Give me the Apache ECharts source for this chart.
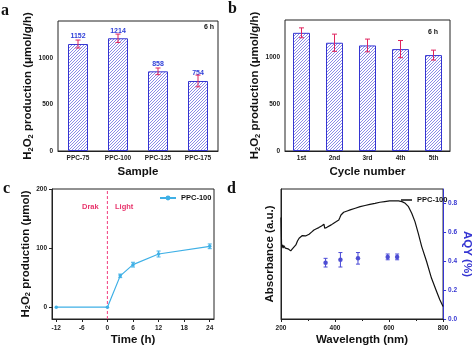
<!DOCTYPE html>
<html>
<head>
<meta charset="utf-8">
<script src="https://cdn.jsdelivr.net/npm/echarts@6/dist/echarts.min.js"></script>
<style>
html,body{margin:0;padding:0;background:#fff}
#main{width:474px;height:351px}
</style>
</head>
<body>
<div id="main"></div>
<script>
// (a) 不同样品产率
var samples = ['PPC-75', 'PPC-100', 'PPC-125', 'PPC-175'];
var sampleRate = [1152, 1214, 858, 754];
var sampleErr = [43, 45, 36, 63];
// (b) 循环测试
var cycles = ['1st', '2nd', '3rd', '4th', '5th'];
var cycleRate = [1263, 1157, 1128, 1089, 1025];
var cycleErr = [53, 92, 68, 92, 53];
// (c) 随时间变化
var timeX = [-12, 0, 3, 6, 12, 24];
var timeY = [0, 0, 53, 72, 90, 103];
var timeErr = [0, 0, 3, 4, 5, 4];
var timeTicks = [-12, -6, 0, 6, 12, 18, 24];
var lightOn = 0; // 开灯时刻
// (d) 吸收光谱 + AQY
var absNm = [200, 202, 204, 206, 208, 210, 212, 214, 216, 219, 222, 226, 231, 236, 242, 248, 255, 261, 267, 273,
  279, 285, 291, 297, 304, 313, 322, 331, 340, 350, 359, 362, 370, 377, 386, 395, 405, 414, 418, 422,
  432, 445, 456, 475, 493, 511, 529, 548, 566, 584, 602, 620, 635, 648, 660, 672, 684, 696, 708, 721,
  739, 757, 776, 788, 800];
var absVal = [0.78, 0.58, 0.55, 0.57, 0.545, 0.565, 0.55, 0.565, 0.545, 0.56, 0.545, 0.54, 0.532, 0.524, 0.54, 0.555, 0.57, 0.60, 0.621, 0.635,
  0.642, 0.638, 0.639, 0.645, 0.652, 0.668, 0.685, 0.694, 0.703, 0.716, 0.729, 0.698, 0.705, 0.711, 0.724, 0.737, 0.75, 0.762, 0.78, 0.80,
  0.821, 0.831, 0.839, 0.852, 0.864, 0.873, 0.882, 0.89, 0.898, 0.903, 0.908, 0.909, 0.908, 0.903, 0.89, 0.864, 0.813, 0.749, 0.66, 0.557,
  0.442, 0.315, 0.212, 0.148, 0.097];
var aqyNm = [365, 420, 485, 595, 630];
var aqyVal = [0.39, 0.41, 0.42, 0.43, 0.43];
var aqyErr = [0.03, 0.05, 0.04, 0.02, 0.02];
var aqyTicks = [0, 0.2, 0.4, 0.6, 0.8];

var font = 'Liberation Sans, Arial, sans-serif';
var blue = '#3535d2';

// 斜线填充
var hatch = document.createElement('canvas');
hatch.width = 3; hatch.height = 3;
var hc = hatch.getContext('2d');
hc.fillStyle = '#fff'; hc.fillRect(0, 0, 3, 3);
hc.strokeStyle = '#6f6fe0'; hc.lineWidth = 0.8;
hc.beginPath();
hc.moveTo(0, 3); hc.lineTo(3, 0);
hc.moveTo(-1, 1); hc.lineTo(1, -1);
hc.moveTo(2, 4); hc.lineTo(4, 2);
hc.stroke();

function errBar(color, cap) {
  return function (params, api) {
    var x = api.value(0), y = api.value(1), e = api.value(2);
    if (!e) return null;
    var t = api.coord([x, y + e]), b = api.coord([x, y - e]);
    var st = { stroke: color, lineWidth: 1 };
    return { type: 'group', children: [
      { type: 'line', shape: { x1: t[0], y1: t[1], x2: b[0], y2: b[1] }, style: st },
      { type: 'line', shape: { x1: t[0] - cap, y1: t[1], x2: t[0] + cap, y2: t[1] }, style: st },
      { type: 'line', shape: { x1: b[0] - cap, y1: b[1], x2: b[0] + cap, y2: b[1] }, style: st }
    ]};
  };
}
function zip3(a, b, c) { return a.map(function (v, i) { return [v, b[i], c[i]]; }); }
function plain(v) { return String(v); }

var tick = { fontSize: 6.5, fontWeight: 'bold', color: '#222', fontFamily: font, formatter: plain };
var titleStyle = { fontSize: 11.5, fontWeight: 'bold', color: '#111', fontFamily: font,
  rich: { s: { fontSize: 7.5, fontWeight: 'bold', fontFamily: font, color: '#111', padding: [5, 0, 0, 0] } } };
var line1 = { onZero: false, lineStyle: { color: '#222', width: 1 } };
var tk = { length: 3, lineStyle: { color: '#222' } };

var chart = echarts.init(document.getElementById('main'));
chart.setOption({
  animation: false,
  backgroundColor: '#fff',
  textStyle: { fontFamily: font },
  grid: [
    { left: 58, top: 21, width: 160, height: 130, show: true, borderColor: '#222', borderWidth: 1 },
    { left: 285, top: 20, width: 165, height: 131, show: true, borderColor: '#222', borderWidth: 1 },
    { left: 52, top: 189, width: 162, height: 130, show: true, borderColor: '#222', borderWidth: 1 },
    { left: 281, top: 189, width: 164, height: 130, show: true, borderColor: '#222', borderWidth: 1 }
  ],
  legend: [
    { data: ['PPC-100'], left: 154, top: 189, itemWidth: 16, itemHeight: 6, itemGap: 3,
      textStyle: { fontSize: 7.5, fontWeight: 'bold', color: '#111' } },
    { data: [{ name: 'PPC-100 abs', icon: 'rect' }], left: 396, top: 191, itemWidth: 11, itemHeight: 1.5, itemGap: 3,
      formatter: function () { return 'PPC-100'; },
      textStyle: { fontSize: 7.5, fontWeight: 'bold', color: '#111' } }
  ],
  xAxis: [
    { type: 'category', gridIndex: 0, data: samples, axisLine: line1, axisTick: tk,
      axisLabel: Object.assign({}, tick, { margin: 4, formatter: null }),
      name: 'Sample', nameLocation: 'middle', nameGap: 15, nameTextStyle: titleStyle },
    { type: 'category', gridIndex: 1, data: cycles, axisLine: line1, axisTick: tk,
      axisLabel: Object.assign({}, tick, { margin: 4, formatter: null }),
      name: 'Cycle number', nameLocation: 'middle', nameGap: 15, nameTextStyle: titleStyle },
    { type: 'value', gridIndex: 2, min: -13, max: 25, splitLine: { show: false }, axisLine: line1,
      axisTick: Object.assign({ customValues: timeTicks }, tk),
      axisLabel: Object.assign({ margin: 6, customValues: timeTicks }, tick),
      name: 'Time (h)', nameLocation: 'middle', nameGap: 15, nameTextStyle: titleStyle },
    { type: 'value', gridIndex: 3, min: 200, max: 800, interval: 200, splitLine: { show: false }, axisLine: line1,
      axisTick: tk, minorTick: { show: true, splitNumber: 2, length: 2, lineStyle: { color: '#222' } },
      axisLabel: Object.assign({ margin: 6 }, tick),
      name: 'Wavelength (nm)', nameLocation: 'middle', nameGap: 15, nameTextStyle: titleStyle }
  ],
  yAxis: [
    { type: 'value', gridIndex: 0, min: 0, max: 1400, splitLine: { show: false }, axisLine: line1,
      axisTick: Object.assign({ customValues: [0, 500, 1000] }, tk),
      axisLabel: Object.assign({ margin: 5, customValues: [0, 500, 1000] }, tick),
      name: 'H{s|2}O{s|2} production (μmol/g/h)', nameLocation: 'middle', nameGap: 23, nameTextStyle: titleStyle },
    { type: 'value', gridIndex: 1, min: 0, max: 1400, splitLine: { show: false }, axisLine: line1,
      axisTick: Object.assign({ customValues: [0, 500, 1000] }, tk),
      axisLabel: Object.assign({ margin: 5, customValues: [0, 500, 1000] }, tick),
      name: 'H{s|2}O{s|2} production (μmol/g/h)', nameLocation: 'middle', nameGap: 22, nameTextStyle: titleStyle },
    { type: 'value', gridIndex: 2, min: -20, max: 200, splitLine: { show: false }, axisLine: line1,
      axisTick: Object.assign({ customValues: [0, 100, 200] }, tk),
      axisLabel: Object.assign({ margin: 5, customValues: [0, 100, 200] }, tick),
      name: 'H{s|2}O{s|2} production (μmol)', nameLocation: 'middle', nameGap: 18, nameTextStyle: titleStyle },
    { type: 'value', gridIndex: 3, min: 0, max: 1, splitLine: { show: false }, axisLine: line1,
      axisTick: { show: false }, axisLabel: { show: false },
      name: 'Absorbance (a.u.)', nameLocation: 'middle', nameGap: 5, nameTextStyle: titleStyle },
    { type: 'value', gridIndex: 3, position: 'right', min: 0, max: 0.9, splitLine: { show: false },
      axisLine: { show: true, onZero: false, lineStyle: { color: blue, width: 1 } },
      axisTick: { show: true, length: 3, customValues: aqyTicks, lineStyle: { color: blue } },
      axisLabel: { margin: 5, customValues: aqyTicks, fontSize: 6.5, fontWeight: 'bold', color: blue,
        formatter: function (v) { return v.toFixed(1); } },
      name: 'AQY (%)', nameLocation: 'middle', nameGap: 16, nameRotate: -90,
      nameTextStyle: { fontSize: 11.5, fontWeight: 'bold', color: blue, fontFamily: font } }
  ],
  series: [
    { type: 'bar', xAxisIndex: 0, yAxisIndex: 0, data: sampleRate, barWidth: 20,
      itemStyle: { color: { image: hatch, repeat: 'repeat' }, borderColor: blue, borderWidth: 1 },
      label: { show: true, position: 'top', distance: 4, fontSize: 7, fontWeight: 'bold', color: '#2f3fd8' } },
    { type: 'custom', xAxisIndex: 0, yAxisIndex: 0, z: 5, data: zip3([0, 1, 2, 3], sampleRate, sampleErr),
      encode: { x: 0, y: 1 }, renderItem: errBar('#e0245e', 2.5) },
    { type: 'bar', xAxisIndex: 1, yAxisIndex: 1, data: cycleRate, barWidth: 17,
      itemStyle: { color: { image: hatch, repeat: 'repeat' }, borderColor: blue, borderWidth: 1 } },
    { type: 'custom', xAxisIndex: 1, yAxisIndex: 1, z: 5, data: zip3([0, 1, 2, 3, 4], cycleRate, cycleErr),
      encode: { x: 0, y: 1 }, renderItem: errBar('#e0245e', 2.5) },
    { type: 'line', xAxisIndex: 2, yAxisIndex: 2, z: 1, silent: true, symbol: 'none',
      data: [[lightOn, -20], [lightOn, 200]],
      lineStyle: { color: '#f2508a', type: [3, 2], width: 1.1 } },
    { name: 'PPC-100', type: 'line', xAxisIndex: 2, yAxisIndex: 2, z: 3,
      data: timeX.map(function (t, i) { return [t, timeY[i]]; }),
      symbol: 'circle', symbolSize: 3.5, lineStyle: { color: '#3fb0e6', width: 1.2 }, itemStyle: { color: '#3fb0e6' } },
    { type: 'custom', xAxisIndex: 2, yAxisIndex: 2, z: 5, data: zip3(timeX, timeY, timeErr),
      encode: { x: 0, y: 1 }, renderItem: errBar('#3fb0e6', 2) },
    { name: 'PPC-100 abs', type: 'line', xAxisIndex: 3, yAxisIndex: 3,
      data: absNm.map(function (n, i) { return [n, absVal[i]]; }),
      symbol: 'none', lineStyle: { color: '#111', width: 1.2 }, itemStyle: { color: '#111' } },
    { type: 'scatter', xAxisIndex: 3, yAxisIndex: 4, data: aqyNm.map(function (n, i) { return [n, aqyVal[i]]; }),
      symbol: 'circle', symbolSize: 4.5, itemStyle: { color: '#2424c8' } },
    { type: 'custom', xAxisIndex: 3, yAxisIndex: 4, z: 5, data: zip3(aqyNm, aqyVal, aqyErr),
      encode: { x: 0, y: 1 }, renderItem: errBar('#4a4ad6', 2) }
  ],
  graphic: [
    { type: 'text', left: 1, top: 3, style: { text: 'a', font: 'bold 16px Liberation Serif', fill: '#111' } },
    { type: 'text', left: 228, top: 1, style: { text: 'b', font: 'bold 16px Liberation Serif', fill: '#111' } },
    { type: 'text', left: 3, top: 181, style: { text: 'c', font: 'bold 16px Liberation Serif', fill: '#111' } },
    { type: 'text', left: 227, top: 181, style: { text: 'd', font: 'bold 16px Liberation Serif', fill: '#111' } },
    { type: 'text', right: 260, top: 24, style: { text: '6 h', font: 'bold 7px Liberation Sans', fill: '#111' } },
    { type: 'text', right: 36, top: 29, style: { text: '6 h', font: 'bold 7px Liberation Sans', fill: '#111' } },
    { type: 'text', left: 82, top: 203, style: { text: 'Drak', font: 'bold 7.5px Liberation Sans', fill: '#e8336b' } },
    { type: 'text', left: 115, top: 203, style: { text: 'Light', font: 'bold 7.5px Liberation Sans', fill: '#e8336b' } }
  ]
});
</script>
</body>
</html>
